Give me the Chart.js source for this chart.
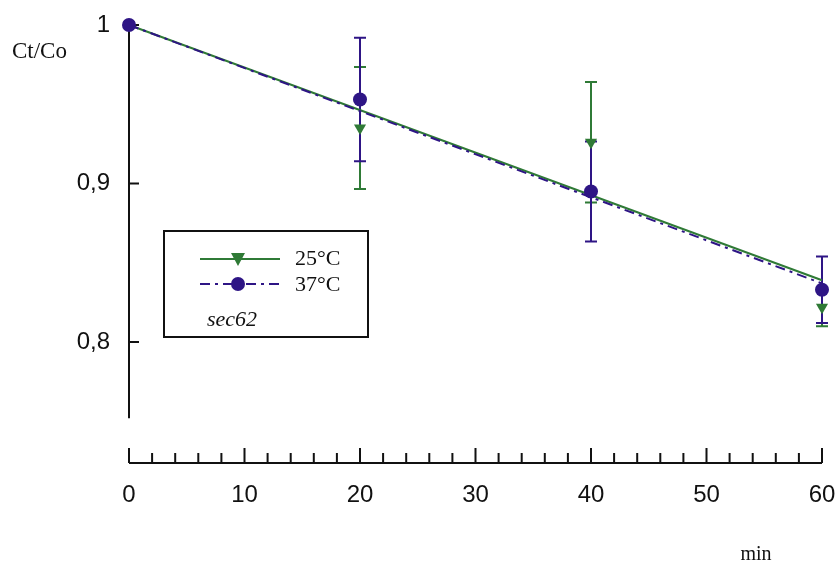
<!DOCTYPE html>
<html>
<head>
<meta charset="utf-8">
<script src="https://cdn.jsdelivr.net/npm/chart.js@4.4.0/dist/chart.umd.min.js"></script>
<style>
    html, body { margin: 0; padding: 0; background: #fff; }
    #wrap { width: 840px; height: 568px; }
</style>
</head>
<body>
<div id="wrap"><canvas id="decayChart" width="840" height="568"></canvas></div>
<script>
// data
const minutes = [0, 20, 40, 60];
const ratio25 = [1.0, 0.935, 0.926, 0.822];
const err25 = [0, 0.0385, 0.038, 0.012];
const ratio37 = [1.0, 0.953, 0.895, 0.833];
const err37 = [0, 0.039, 0.0315, 0.021];
const fitX = [0, 60];
const fit25 = [1.0, 0.839];
const fit37 = [1.0, 0.837];
const yTicks = [0.8, 0.9, 1];
const yAxisEnd = 0.752; // y axis line stops here

const green = '#2f7a36';
const purple = '#2e1585';

function toPoints(xs, ys) {
    return xs.map((x, i) => ({ x: x, y: ys[i] }));
}

function noOverflow(scale) {
    scale.paddingLeft = 0;
    scale.paddingRight = 0;
    scale.paddingTop = 0;
    scale.paddingBottom = 0;
}

// error bars, drawn under the markers
const errorBars = {
    id: 'errorBars',
    beforeDatasetsDraw(chart) {
        const ctx = chart.ctx;
        const xs = chart.scales.x, ys = chart.scales.y;
        const sets = [[ratio25, err25, green], [ratio37, err37, purple]];
        ctx.save();
        ctx.lineWidth = 2;
        sets.forEach(([vals, errs, color]) => {
            ctx.strokeStyle = color;
            vals.forEach((v, i) => {
                if (!errs[i]) return;
                const px = xs.getPixelForValue(minutes[i]);
                const top = ys.getPixelForValue(v + errs[i]);
                const bot = ys.getPixelForValue(v - errs[i]);
                ctx.beginPath();
                ctx.moveTo(px, top); ctx.lineTo(px, bot);
                ctx.moveTo(px - 6, top); ctx.lineTo(px + 6, top);
                ctx.moveTo(px - 6, bot); ctx.lineTo(px + 6, bot);
                ctx.stroke();
            });
        });
        ctx.restore();
    }
};

// axes with inward ticks, titles and the boxed legend
const decorations = {
    id: 'decorations',
    beforeDatasetsDraw(chart) {
        const ctx = chart.ctx;
        const xs = chart.scales.x, ys = chart.scales.y;
        const area = chart.chartArea;
        const x0 = xs.getPixelForValue(0);
        ctx.save();
        ctx.strokeStyle = '#111';
        ctx.lineWidth = 2;

        // y axis
        ctx.beginPath();
        ctx.moveTo(x0, ys.getPixelForValue(1));
        ctx.lineTo(x0, ys.getPixelForValue(yAxisEnd));
        yTicks.forEach(t => {
            const py = ys.getPixelForValue(t);
            ctx.moveTo(x0, py); ctx.lineTo(x0 + 10, py);
        });
        ctx.stroke();

        // x axis, detached below the plot
        const ay = area.bottom;
        ctx.beginPath();
        ctx.moveTo(xs.getPixelForValue(0), ay);
        ctx.lineTo(xs.getPixelForValue(60), ay);
        for (let m = 0; m <= 60; m += 2) {
            const px = xs.getPixelForValue(m);
            ctx.moveTo(px, ay);
            ctx.lineTo(px, ay - (m % 10 === 0 ? 15 : 10));
        }
        ctx.stroke();
        ctx.restore();
    },
    afterDraw(chart) {
        const ctx = chart.ctx;
        ctx.save();
        // axis titles
        ctx.fillStyle = '#111';
        ctx.font = '23px "Liberation Serif"';
        ctx.textBaseline = 'middle';
        ctx.textAlign = 'left';
        ctx.fillText('Ct/Co', 12, 52);
        ctx.font = '20px "Liberation Serif"';
        ctx.textAlign = 'center';
        ctx.fillText('min', 756, 555);

        // legend box
        ctx.strokeStyle = '#111';
        ctx.lineWidth = 2;
        ctx.strokeRect(164, 231, 204, 106);
        ctx.strokeStyle = green;
        ctx.beginPath();
        ctx.moveTo(200, 259); ctx.lineTo(280, 259);
        ctx.stroke();
        ctx.strokeStyle = purple;
        ctx.setLineDash([10, 5, 3, 5]);
        ctx.beginPath();
        ctx.moveTo(200, 284); ctx.lineTo(280, 284);
        ctx.stroke();
        ctx.setLineDash([]);
        // legend markers
        ctx.fillStyle = green;
        ctx.beginPath();
        ctx.moveTo(231, 253); ctx.lineTo(245, 253); ctx.lineTo(238, 266);
        ctx.closePath();
        ctx.fill();
        ctx.fillStyle = purple;
        ctx.beginPath();
        ctx.arc(238, 284, 7, 0, Math.PI * 2);
        ctx.fill();

        ctx.fillStyle = '#111';
        ctx.textAlign = 'left';
        ctx.font = '22px "Liberation Serif"';
        ctx.fillText('25°C', 295, 259);
        ctx.fillText('37°C', 295, 285);
        ctx.font = 'italic 22px "Liberation Serif"';
        ctx.fillText('sec62', 207, 320);
        ctx.restore();
    }
};

const ctx = document.getElementById('decayChart').getContext('2d');
const decayChart = new Chart(ctx, {
    type: 'scatter',
    data: {
        datasets: [
            {
                label: '25°C fit',
                type: 'line',
                data: toPoints(fitX, fit25),
                borderColor: green,
                borderWidth: 2,
                pointRadius: 0,
                clip: false,
                order: 4
            },
            {
                label: '37°C fit',
                type: 'line',
                data: toPoints(fitX, fit37),
                borderColor: purple,
                borderWidth: 2,
                borderDash: [10, 5, 3, 5],
                pointRadius: 0,
                clip: false,
                order: 3
            },
            {
                label: '25°C',
                data: toPoints(minutes, ratio25),
                pointStyle: 'triangle',
                rotation: 180,
                pointRadius: 7,
                backgroundColor: green,
                borderColor: green,
                borderWidth: 0,
                clip: false,
                order: 2
            },
            {
                label: '37°C',
                data: toPoints(minutes, ratio37),
                pointStyle: 'circle',
                pointRadius: 7,
                backgroundColor: purple,
                borderColor: purple,
                borderWidth: 0,
                clip: false,
                order: 1
            }
        ]
    },
    options: {
        responsive: false,
        animation: false,
        layout: { padding: { left: 0, right: 18, top: 25, bottom: 0 } },
        plugins: {
            legend: { display: false },
            tooltip: { enabled: false }
        },
        scales: {
            x: {
                type: 'linear',
                min: 0,
                max: 60,
                grid: { display: false, drawTicks: false },
                border: { display: false },
                ticks: {
                    stepSize: 10,
                    padding: 18,
                    color: '#111',
                    font: { family: '"Liberation Sans", Arial', size: 24 }
                },
                afterFit(scale) { scale.height = 105; noOverflow(scale); }
            },
            y: {
                min: 0.7237,
                max: 1.0,
                grid: { display: false, drawTicks: false },
                border: { display: false },
                afterBuildTicks(scale) {
                    scale.ticks = yTicks.map(v => ({ value: v }));
                },
                ticks: {
                    padding: 19,
                    color: '#111',
                    font: { family: '"Liberation Sans", Arial', size: 24 },
                    callback: v => String(v).replace('.', ',')
                },
                afterFit(scale) { scale.width = 129; noOverflow(scale); }
            }
        }
    },
    plugins: [errorBars, decorations]
});
</script>
</body>
</html>
